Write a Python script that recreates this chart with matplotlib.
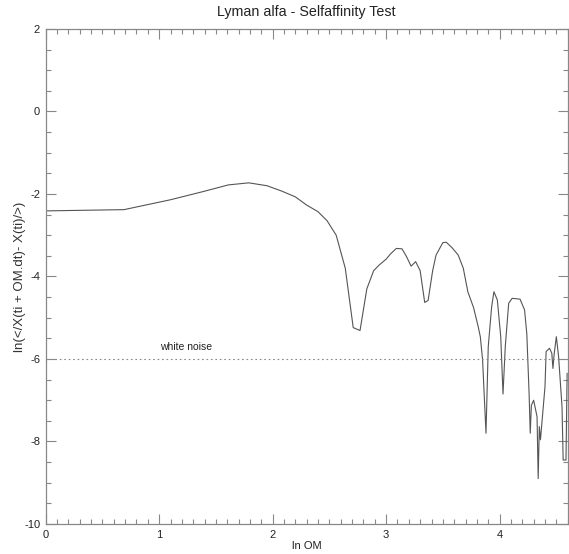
import numpy as np
import matplotlib
matplotlib.use("Agg")
import matplotlib.pyplot as plt
from matplotlib.ticker import MultipleLocator

plt.rcParams['font.family'] = ['Liberation Sans', 'DejaVu Sans']
plt.rcParams['axes.unicode_minus'] = False

# ln OM values and the self-affinity curve
ln_om = [0.00, 0.69, 1.10, 1.39, 1.61, 1.79, 1.95, 2.08, 2.20, 2.30,
         2.40, 2.48, 2.56, 2.64, 2.71, 2.77, 2.83, 2.89, 2.94, 3.00,
         3.04, 3.09, 3.14, 3.18, 3.22, 3.26, 3.30, 3.34, 3.37, 3.41,
         3.44, 3.50, 3.53, 3.58, 3.635, 3.68, 3.72, 3.77, 3.81, 3.83,
         3.85, 3.88, 3.90, 3.93, 3.95, 3.98, 4.01, 4.03, 4.05, 4.08,
         4.11, 4.18, 4.22, 4.24, 4.26, 4.27, 4.28, 4.30, 4.33, 4.34,
         4.35, 4.36, 4.40, 4.41, 4.44, 4.46, 4.47, 4.48, 4.50, 4.52,
         4.55, 4.56, 4.585, 4.595]
ln_diff = [-2.41, -2.38, -2.14, -1.94, -1.78, -1.73, -1.80, -1.93, -2.07, -2.27,
           -2.43, -2.65, -3.00, -3.80, -5.24, -5.31, -4.30, -3.86, -3.72, -3.58,
           -3.45, -3.32, -3.33, -3.52, -3.75, -3.64, -3.86, -4.63, -4.58, -3.86,
           -3.48, -3.18, -3.17, -3.30, -3.48, -3.80, -4.37, -4.75, -5.20, -5.46,
           -6.02, -7.80, -5.70, -4.73, -4.37, -4.57, -5.46, -6.85, -5.70, -4.65,
           -4.53, -4.55, -4.81, -5.40, -6.85, -7.80, -7.12, -7.00, -7.40, -8.90,
           -7.64, -7.96, -6.67, -5.82, -5.74, -5.86, -6.23, -5.90, -5.46, -5.95,
           -7.16, -8.45, -8.45, -6.35]

white_noise_level = -6.0
x_range = (0, 4.6)
y_range = (-10, 2)

fig = plt.figure(figsize=(5.69, 5.54), dpi=100)
ax = fig.add_axes([0.0803, 0.0542, 0.9174, 0.8935])

ax.plot(ln_om, ln_diff, color='#555555', linewidth=0.8)
ax.axhline(white_noise_level, color='#888888', linewidth=0.8, linestyle=(0, (1.5, 2.5)))
ax.text(1.01, white_noise_level + 0.29, "white noise", fontsize=7.5, color='#222222',
        ha='left', va='center')

ax.set_xlim(*x_range)
ax.set_ylim(*y_range)
ax.xaxis.set_major_locator(MultipleLocator(1))
ax.xaxis.set_minor_locator(MultipleLocator(0.1))
ax.yaxis.set_major_locator(MultipleLocator(2))
ax.yaxis.set_minor_locator(MultipleLocator(0.5))

ax.tick_params(which='both', direction='in', top=True, right=True,
               color='#888888', labelcolor='#222222', labelsize=8)
ax.tick_params(which='major', length=7, width=0.8, pad=4)
ax.tick_params(which='minor', length=3.5, width=0.8)
for s in ax.spines.values():
    s.set_color('#888888')
    s.set_linewidth(0.9)

ax.set_title("Lyman alfa - Selfaffinity Test", fontsize=10.3, color='#222222', pad=9)
ax.set_xlabel("ln OM", fontsize=8, color='#222222', labelpad=1)
ax.set_ylabel("ln(</X(ti + OM.dt)- X(ti)/>)", fontsize=9.5, color='#333333')
ax.yaxis.set_label_coords(-0.037, 0.5)

fig.savefig("out.png", dpi=100)
